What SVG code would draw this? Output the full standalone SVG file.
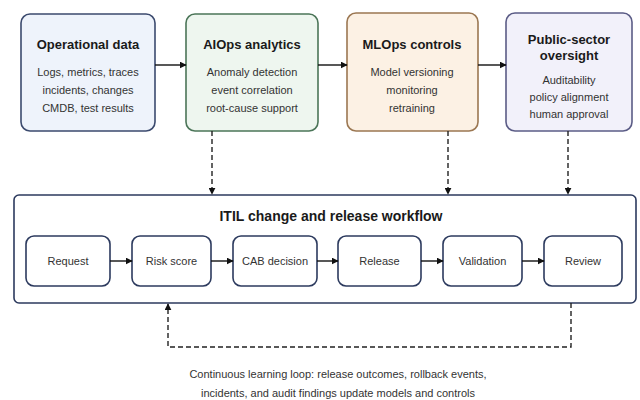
<svg xmlns="http://www.w3.org/2000/svg" width="640" height="400" viewBox="0 0 640 400">
  <defs>
    <marker id="arrow" viewBox="0 0 10 10" refX="9" refY="5" markerWidth="7" markerHeight="7" markerUnits="userSpaceOnUse" orient="auto">
      <path d="M0,0 L10,5 L0,10 z" fill="#111"/>
    </marker>
    <style>
      text { font-family: "Liberation Sans", Arial, sans-serif; fill: #1a1a1a; text-anchor: middle; }
      .title { font-size: 13px; font-weight: bold; }
      .body { font-size: 11px; fill: #333; }
      .step { font-size: 11px; fill: #333; }
      .wf-title { font-size: 14px; font-weight: bold; }
      .card { stroke-width: 1.6; }
      .step-box { fill: #ffffff; stroke: #2c3a5e; stroke-width: 1.6; }
      .edge { fill: none; stroke: #111; stroke-width: 1.4; }
      .dash { fill: none; stroke: #222; stroke-width: 1.4; stroke-dasharray: 5 3; }
    </style>
  </defs>

  <rect width="640" height="400" fill="#ffffff"/>

  <!-- Top row: sources and controls -->
  <g id="operational-data">
    <rect class="card" x="21" y="14" width="134" height="117" rx="9" fill="#eef3fb" stroke="#3b4a6e"/>
    <text class="title" x="88" y="49">Operational data</text>
    <text class="body" x="88" y="76">Logs, metrics, traces</text>
    <text class="body" x="88" y="94">incidents, changes</text>
    <text class="body" x="88" y="112">CMDB, test results</text>
  </g>

  <g id="aiops-analytics">
    <rect class="card" x="186" y="14" width="132" height="117" rx="9" fill="#eef6ef" stroke="#4b7558"/>
    <text class="title" x="252" y="49">AIOps analytics</text>
    <text class="body" x="252" y="76">Anomaly detection</text>
    <text class="body" x="252" y="94">event correlation</text>
    <text class="body" x="252" y="112">root-cause support</text>
  </g>

  <g id="mlops-controls">
    <rect class="card" x="347" y="13" width="131" height="118" rx="9" fill="#fcf1e4" stroke="#9b7752"/>
    <text class="title" x="412" y="49">MLOps controls</text>
    <text class="body" x="412" y="76">Model versioning</text>
    <text class="body" x="412" y="94">monitoring</text>
    <text class="body" x="412" y="112">retraining</text>
  </g>

  <g id="public-sector-oversight">
    <rect class="card" x="506" y="13" width="126" height="118" rx="9" fill="#f2f1fa" stroke="#5b5c86"/>
    <text class="title" x="569" y="44">Public-sector</text>
    <text class="title" x="569" y="60">oversight</text>
    <text class="body" x="569" y="84">Auditability</text>
    <text class="body" x="569" y="101">policy alignment</text>
    <text class="body" x="569" y="118">human approval</text>
  </g>

  <!-- Workflow container -->
  <g id="itil-workflow">
    <rect x="14" y="195" width="622" height="108" rx="5" fill="#ffffff" stroke="#2c3a5e" stroke-width="1.6"/>
    <text class="wf-title" x="331" y="221">ITIL change and release workflow</text>
  </g>

  <g id="step-request">
    <rect class="step-box" x="26" y="236" width="84" height="50" rx="8"/>
    <text class="step" x="68" y="265">Request</text>
  </g>
  <g id="step-risk-score">
    <rect class="step-box" x="132" y="236" width="79" height="50" rx="8"/>
    <text class="step" x="171.5" y="265">Risk score</text>
  </g>
  <g id="step-cab-decision">
    <rect class="step-box" x="233" y="236" width="84" height="50" rx="8"/>
    <text class="step" x="275" y="265">CAB decision</text>
  </g>
  <g id="step-release">
    <rect class="step-box" x="338" y="236" width="83" height="50" rx="8"/>
    <text class="step" x="379.5" y="265">Release</text>
  </g>
  <g id="step-validation">
    <rect class="step-box" x="443" y="236" width="79" height="50" rx="8"/>
    <text class="step" x="482.5" y="265">Validation</text>
  </g>
  <g id="step-review">
    <rect class="step-box" x="544" y="236" width="78" height="50" rx="8"/>
    <text class="step" x="583" y="265">Review</text>
  </g>

  <!-- Connectors -->
  <g id="connectors">
    <line class="edge" x1="155" y1="65" x2="186" y2="65" marker-end="url(#arrow)"/>
    <line class="edge" x1="318" y1="65" x2="347" y2="65" marker-end="url(#arrow)"/>
    <line class="edge" x1="478" y1="65" x2="506" y2="65" marker-end="url(#arrow)"/>

    <line class="dash" x1="212" y1="131" x2="212" y2="194" marker-end="url(#arrow)"/>
    <line class="dash" x1="448" y1="131" x2="448" y2="194" marker-end="url(#arrow)"/>
    <line class="dash" x1="568" y1="131" x2="568" y2="194" marker-end="url(#arrow)"/>

    <line class="edge" x1="110" y1="261" x2="132" y2="261" marker-end="url(#arrow)"/>
    <line class="edge" x1="211" y1="261" x2="233" y2="261" marker-end="url(#arrow)"/>
    <line class="edge" x1="317" y1="261" x2="338" y2="261" marker-end="url(#arrow)"/>
    <line class="edge" x1="421" y1="261" x2="443" y2="261" marker-end="url(#arrow)"/>
    <line class="edge" x1="522" y1="261" x2="544" y2="261" marker-end="url(#arrow)"/>

    <polyline class="dash" points="571,303 571,347 168,347 168,304" marker-end="url(#arrow)"/>
  </g>

  <g id="loop-caption">
    <text class="body" x="338" y="378">Continuous learning loop: release outcomes, rollback events,</text>
    <text class="body" x="338" y="397">incidents, and audit findings update models and controls</text>
  </g>
</svg>
